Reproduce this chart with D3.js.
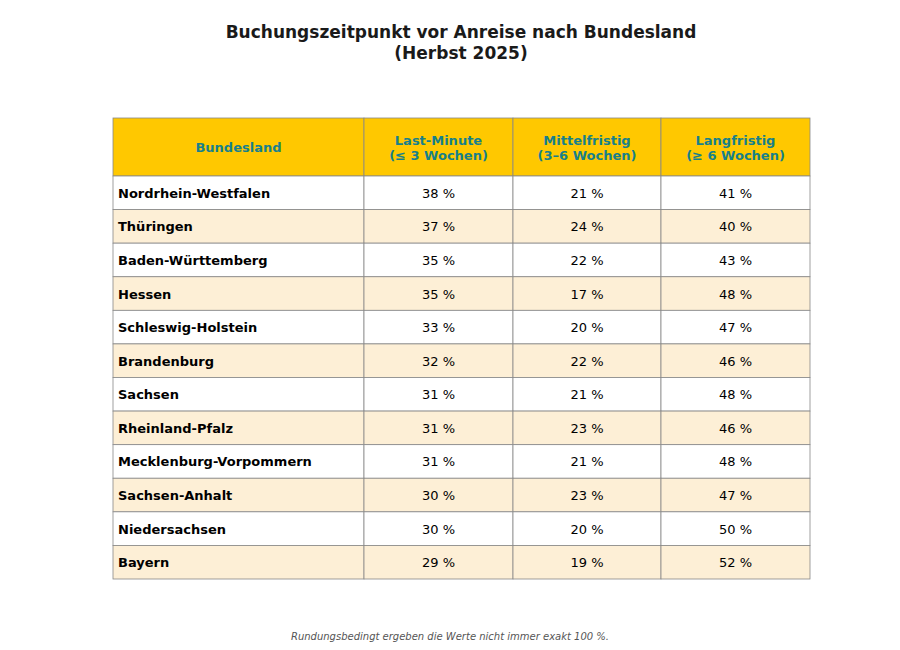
<!DOCTYPE html>
<html>
<head>
<meta charset="utf-8">
<script src="https://cdn.jsdelivr.net/npm/d3@7"></script>
<style>
body { margin: 0; background: #fff; font-family: "DejaVu Sans", sans-serif; }
</style>
</head>
<body>
<svg class="table"></svg>
<script>
var width = 900;
var height = 650;

var columns = [
    { key: "land", label: ["Bundesland"] },
    { key: "last", label: ["Last-Minute", "(≤ 3 Wochen)"] },
    { key: "mittel", label: ["Mittelfristig", "(3–6 Wochen)"] },
    { key: "lang", label: ["Langfristig", "(≥ 6 Wochen)"] }
];

var rows = [
    { land: "Nordrhein-Westfalen", last: 38, mittel: 21, lang: 41 },
    { land: "Thüringen", last: 37, mittel: 24, lang: 40 },
    { land: "Baden-Württemberg", last: 35, mittel: 22, lang: 43 },
    { land: "Hessen", last: 35, mittel: 17, lang: 48 },
    { land: "Schleswig-Holstein", last: 33, mittel: 20, lang: 47 },
    { land: "Brandenburg", last: 32, mittel: 22, lang: 46 },
    { land: "Sachsen", last: 31, mittel: 21, lang: 48 },
    { land: "Rheinland-Pfalz", last: 31, mittel: 23, lang: 46 },
    { land: "Mecklenburg-Vorpommern", last: 31, mittel: 21, lang: 48 },
    { land: "Sachsen-Anhalt", last: 30, mittel: 23, lang: 47 },
    { land: "Niedersachsen", last: 30, mittel: 20, lang: 50 },
    { land: "Bayern", last: 29, mittel: 19, lang: 52 }
];

var svg = d3.select(".table").attr("width", width).attr("height", height);

// column edges in pixels
var colEdges = [113, 364, 513, 661, 810];
var headerTop = 118, headerBottom = 176, tableBottom = 579;

var y = d3.scaleBand()
    .domain(d3.range(rows.length))
    .range([headerBottom, tableBottom]);

// title
svg.append("text")
    .attr("x", 461).attr("text-anchor", "middle")
    .style("font-size", "17px").style("font-weight", "bold").style("fill", "#1a1a1a")
    .selectAll("tspan").data(["Buchungszeitpunkt vor Anreise nach Bundesland", "(Herbst 2025)"])
    .enter().append("tspan")
        .attr("x", 461)
        .attr("y", function(d, i) { return 38 + i * 21; })
        .text(function(d) { return d; });

// header
var header = svg.append("g");
columns.forEach(function(c, j) {
    header.append("rect")
        .attr("x", colEdges[j]).attr("y", headerTop)
        .attr("width", colEdges[j + 1] - colEdges[j]).attr("height", headerBottom - headerTop)
        .attr("fill", "#FFC800").attr("stroke", "#888").attr("stroke-width", 0.8);
    var cx = (colEdges[j] + colEdges[j + 1]) / 2;
    var mid = (headerTop + headerBottom) / 2;
    header.append("text")
        .attr("text-anchor", "middle")
        .style("font-size", "13px").style("font-weight", "bold").style("fill", "#17808A")
        .selectAll("tspan").data(c.label).enter().append("tspan")
            .attr("x", cx)
            .attr("y", function(d, i) { return mid + 5 + (i - (c.label.length - 1) / 2) * 15; })
            .text(function(d) { return d; });
});

// body
var row = svg.selectAll("g.row").data(rows).enter().append("g")
    .attr("class", "row")
    .attr("transform", function(d, i) { return "translate(0," + y(i) + ")"; });

columns.forEach(function(c, j) {
    row.append("rect")
        .attr("x", colEdges[j]).attr("y", 0)
        .attr("width", colEdges[j + 1] - colEdges[j]).attr("height", y.bandwidth())
        .attr("fill", function(d, i) { return i % 2 ? "#FDEFD6" : "#fff"; })
        .attr("stroke", "#888").attr("stroke-width", 0.8);
    row.append("text")
        .attr("x", j === 0 ? colEdges[0] + 5 : (colEdges[j] + colEdges[j + 1]) / 2)
        .attr("y", y.bandwidth() / 2 + 5)
        .attr("text-anchor", j === 0 ? "start" : "middle")
        .style("font-size", "13px")
        .style("font-weight", j === 0 ? "bold" : "normal")
        .style("fill", "#000")
        .text(function(d) { return j === 0 ? d[c.key] : d[c.key] + " %"; });
});

// footnote
svg.append("text")
    .attr("x", 450).attr("y", 640).attr("text-anchor", "middle")
    .style("font-size", "10px").style("font-style", "italic").style("fill", "#555")
    .text("Rundungsbedingt ergeben die Werte nicht immer exakt 100 %.");
</script>
</body>
</html>
